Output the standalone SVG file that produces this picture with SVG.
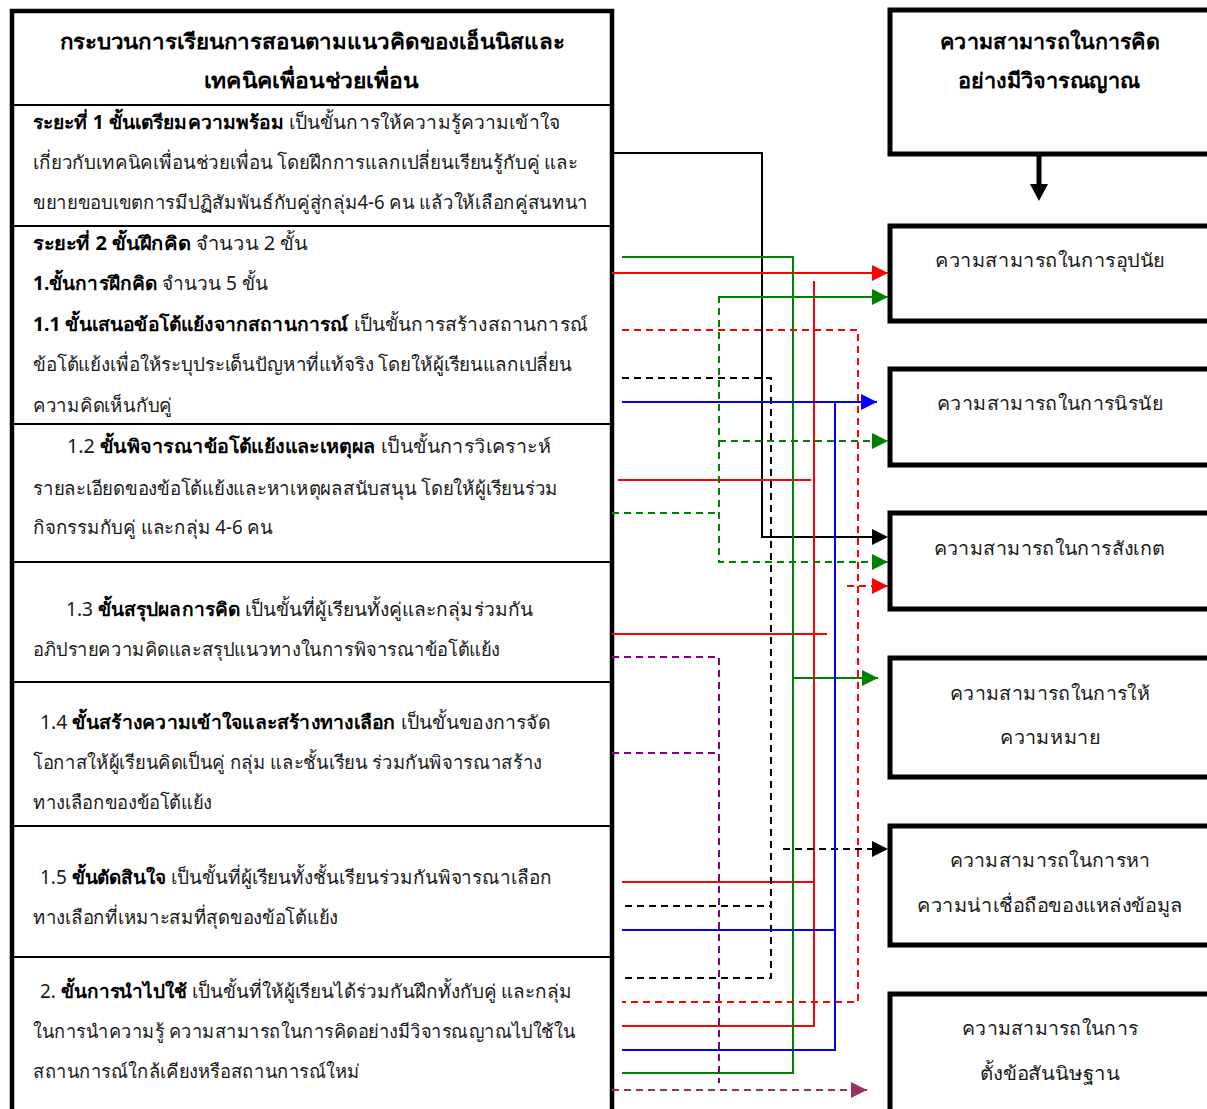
<svg xmlns="http://www.w3.org/2000/svg" width="1207" height="1109" viewBox="0 0 1207 1109">
<style>
.t{font-family:"Noto Sans","DejaVu Sans",sans-serif;font-size:19px;fill:#1a1a1a}
.h{font-size:21px}
.b{font-weight:bold;fill:#000}
.c{text-anchor:middle}
.box{fill:#fff;stroke:#000;stroke-width:5}
.div{stroke:#000;stroke-width:2}
.ln{fill:none;stroke-width:2}
.d{stroke-dasharray:7 5}
.r{stroke:#ff0000}.g{stroke:#008000}.bl{stroke:#0000ff}.k{stroke:#000}.p{stroke:#800080}
</style>
<defs>
<marker id="aR" markerUnits="userSpaceOnUse" markerWidth="16" markerHeight="16" refX="16" refY="8" orient="auto"><path d="M0,0L16,8L0,16z" fill="#ff0000"/></marker>
<marker id="aG" markerUnits="userSpaceOnUse" markerWidth="16" markerHeight="16" refX="16" refY="8" orient="auto"><path d="M0,0L16,8L0,16z" fill="#008000"/></marker>
<marker id="aB" markerUnits="userSpaceOnUse" markerWidth="16" markerHeight="16" refX="16" refY="8" orient="auto"><path d="M0,0L16,8L0,16z" fill="#0000ff"/></marker>
<marker id="aK" markerUnits="userSpaceOnUse" markerWidth="16" markerHeight="16" refX="16" refY="8" orient="auto"><path d="M0,0L16,8L0,16z" fill="#000"/></marker>
<marker id="aP" markerUnits="userSpaceOnUse" markerWidth="16" markerHeight="16" refX="16" refY="8" orient="auto"><path d="M0,0L16,8L0,16z" fill="#993366"/></marker>
</defs>
<rect width="1207" height="1109" fill="#fff"/>

<g id="process">
<rect x="12" y="11" width="600" height="1110" fill="#fff" stroke="#000" stroke-width="4.5"/>
<line class="div" x1="12" y1="105" x2="612" y2="105"/>
<line class="div" x1="12" y1="226" x2="612" y2="226"/>
<line class="div" x1="12" y1="424" x2="612" y2="424"/>
<line class="div" x1="12" y1="562" x2="612" y2="562"/>
<line class="div" x1="12" y1="682" x2="612" y2="682"/>
<line class="div" x1="12" y1="826" x2="612" y2="826"/>
<line class="div" x1="12" y1="957" x2="612" y2="957"/>
<text class="t h b c" x="312" y="49" textLength="505" lengthAdjust="spacingAndGlyphs">กระบวนการเรียนการสอนตามแนวคิดของเอ็นนิสและ</text>
<text class="t h b c" x="311" y="88" textLength="215" lengthAdjust="spacingAndGlyphs">เทคนิคเพื่อนช่วยเพื่อน</text>
<text class="t" x="33" y="129" textLength="527" lengthAdjust="spacingAndGlyphs"><tspan class="b">ระยะที่ 1 ขั้นเตรียมความพร้อม</tspan> เป็นขั้นการให้ความรู้ความเข้าใจ</text>
<text class="t" x="33" y="169" textLength="545" lengthAdjust="spacingAndGlyphs">เกี่ยวกับเทคนิคเพื่อนช่วยเพื่อน โดยฝึกการแลกเปลี่ยนเรียนรู้กับคู่ และ</text>
<text class="t" x="33" y="209" textLength="555" lengthAdjust="spacingAndGlyphs">ขยายขอบเขตการมีปฏิสัมพันธ์กับคู่สู่กลุ่ม4-6 คน แล้วให้เลือกคู่สนทนา</text>
<text class="t" x="33" y="250" textLength="275" lengthAdjust="spacingAndGlyphs"><tspan class="b">ระยะที่ 2 ขั้นฝึกคิด</tspan> จำนวน  2 ขั้น</text>
<text class="t" x="33" y="290" textLength="235" lengthAdjust="spacingAndGlyphs"><tspan class="b">1.ขั้นการฝึกคิด</tspan> จำนวน 5 ขั้น</text>
<text class="t" x="33" y="331" textLength="555" lengthAdjust="spacingAndGlyphs"><tspan class="b">1.1 ขั้นเสนอข้อโต้แย้งจากสถานการณ์</tspan> เป็นขั้นการสร้างสถานการณ์</text>
<text class="t" x="33" y="371" textLength="539" lengthAdjust="spacingAndGlyphs">ข้อโต้แย้งเพื่อให้ระบุประเด็นปัญหาที่แท้จริง โดยให้ผู้เรียนแลกเปลี่ยน</text>
<text class="t" x="33" y="412" textLength="139" lengthAdjust="spacingAndGlyphs">ความคิดเห็นกับคู่</text>
<text class="t" x="67" y="453" textLength="484" lengthAdjust="spacingAndGlyphs">1.2 <tspan class="b">ขั้นพิจารณาข้อโต้แย้งและเหตุผล</tspan>  เป็นขั้นการวิเคราะห์</text>
<text class="t" x="33" y="495" textLength="525" lengthAdjust="spacingAndGlyphs">รายละเอียดของข้อโต้แย้งและหาเหตุผลสนับสนุน โดยให้ผู้เรียนร่วม</text>
<text class="t" x="33" y="534" textLength="240" lengthAdjust="spacingAndGlyphs">กิจกรรมกับคู่ และกลุ่ม 4-6 คน</text>
<text class="t" x="66" y="616" textLength="467" lengthAdjust="spacingAndGlyphs">1.3 <tspan class="b">ขั้นสรุปผลการคิด</tspan> เป็นขั้นที่ผู้เรียนทั้งคู่และกลุ่มร่วมกัน</text>
<text class="t" x="33" y="656" textLength="467" lengthAdjust="spacingAndGlyphs">อภิปรายความคิดและสรุปแนวทางในการพิจารณาข้อโต้แย้ง</text>
<text class="t" x="40" y="729" textLength="510" lengthAdjust="spacingAndGlyphs">1.4 <tspan class="b">ขั้นสร้างความเข้าใจและสร้างทางเลือก</tspan> เป็นขั้นของการจัด</text>
<text class="t" x="33" y="769" textLength="509" lengthAdjust="spacingAndGlyphs">โอกาสให้ผู้เรียนคิดเป็นคู่ กลุ่ม และชั้นเรียน ร่วมกันพิจารณาสร้าง</text>
<text class="t" x="33" y="809" textLength="179" lengthAdjust="spacingAndGlyphs">ทางเลือกของข้อโต้แย้ง</text>
<text class="t" x="40" y="884" textLength="512" lengthAdjust="spacingAndGlyphs">1.5 <tspan class="b">ขั้นตัดสินใจ</tspan> เป็นขั้นที่ผู้เรียนทั้งชั้นเรียนร่วมกันพิจารณาเลือก</text>
<text class="t" x="33" y="924" textLength="305" lengthAdjust="spacingAndGlyphs">ทางเลือกที่เหมาะสมที่สุดของข้อโต้แย้ง</text>
<text class="t" x="40" y="998" textLength="532" lengthAdjust="spacingAndGlyphs">2. <tspan class="b">ขั้นการนำไปใช้</tspan> เป็นขั้นที่ให้ผู้เรียนได้ร่วมกันฝึกทั้งกับคู่ และกลุ่ม</text>
<text class="t" x="33" y="1038" textLength="542" lengthAdjust="spacingAndGlyphs">ในการนำความรู้ ความสามารถในการคิดอย่างมีวิจารณญาณไปใช้ใน</text>
<text class="t" x="33" y="1078" textLength="327" lengthAdjust="spacingAndGlyphs">สถานการณ์ใกล้เคียงหรือสถานการณ์ใหม่</text>
</g>

<g id="critical-thinking">
<rect class="box" x="890" y="10" width="340" height="144"/>
<text class="t h b c" x="1050" y="49" textLength="220" lengthAdjust="spacingAndGlyphs">ความสามารถในการคิด</text>
<text class="t h b c" x="1049" y="88" textLength="182" lengthAdjust="spacingAndGlyphs">อย่างมีวิจารณญาณ</text>
</g>
<g id="induction">
<rect class="box" x="890" y="226" width="340" height="95"/>
<text class="t c" x="1050" y="267" textLength="230" lengthAdjust="spacingAndGlyphs">ความสามารถในการอุปนัย</text>
</g>
<g id="deduction">
<rect class="box" x="890" y="369" width="340" height="96"/>
<text class="t c" x="1050" y="410" textLength="226" lengthAdjust="spacingAndGlyphs">ความสามารถในการนิรนัย</text>
</g>
<g id="observation">
<rect class="box" x="890" y="513" width="340" height="96"/>
<text class="t c" x="1049" y="555" textLength="231" lengthAdjust="spacingAndGlyphs">ความสามารถในการสังเกต</text>
</g>
<g id="meaning">
<rect class="box" x="890" y="658" width="340" height="119"/>
<text class="t c" x="1050" y="700" textLength="200" lengthAdjust="spacingAndGlyphs">ความสามารถในการให้</text>
<text class="t c" x="1050" y="744" textLength="100" lengthAdjust="spacingAndGlyphs">ความหมาย</text>
</g>
<g id="credibility">
<rect class="box" x="890" y="826" width="340" height="119"/>
<text class="t c" x="1050" y="867" textLength="201" lengthAdjust="spacingAndGlyphs">ความสามารถในการหา</text>
<text class="t c" x="1050" y="912" textLength="266" lengthAdjust="spacingAndGlyphs">ความน่าเชื่อถือของแหล่งข้อมูล</text>
</g>
<g id="assumption">
<rect class="box" x="890" y="994" width="340" height="140"/>
<text class="t c" x="1050" y="1035" textLength="176" lengthAdjust="spacingAndGlyphs">ความสามารถในการ</text>
<text class="t c" x="1050" y="1080" textLength="140" lengthAdjust="spacingAndGlyphs">ตั้งข้อสันนิษฐาน</text>
</g>

<g id="connectors">
<line x1="1039" y1="156" x2="1039" y2="186" stroke="#000" stroke-width="5"/>
<path d="M1030,184L1048,184L1039,201z" fill="#000"/>
<path class="ln k" stroke-width="3" d="M612,153H762V537H872"/>
<path d="M872,529L888,537L872,545z" fill="#000"/>
<path class="ln r" d="M612,273H888" marker-end="url(#aR)"/>
<path class="ln r" d="M814,281V1026H622"/>
<path class="ln r" d="M618,480H811"/>
<path class="ln r" d="M612,634H827"/>
<path class="ln r" d="M622,882H814"/>
<path class="ln g" d="M622,257H793V1073H622"/>
<path class="ln g" d="M793,678H878" marker-end="url(#aG)"/>
<path class="ln g d" d="M888,297H719V562H888" marker-end="url(#aG)"/>
<path class="ln g d" d="M719,297H888" marker-end="url(#aG)"/>
<path class="ln g d" d="M719,441H888" marker-end="url(#aG)"/>
<path class="ln g d" d="M612,513H719"/>
<path class="ln r d" d="M622,330H858V1002H622"/>
<path class="ln r d" d="M847,586H888" marker-end="url(#aR)"/>
<path class="ln k d" d="M622,378H771V978H625"/>
<path class="ln k d" d="M625,906H771"/>
<path class="ln k d" d="M783,849H888" marker-end="url(#aK)"/>
<path class="ln bl" d="M622,402H877" marker-end="url(#aB)"/>
<path class="ln bl" d="M835,402V1050H622"/>
<path class="ln bl" d="M622,930H835"/>
<path class="ln p d" d="M612,657H719V1083"/>
<path class="ln p d" d="M612,753H719"/>
<path class="ln d" stroke="#993366" d="M612,1090H867" marker-end="url(#aP)"/>
</g>
</svg>
